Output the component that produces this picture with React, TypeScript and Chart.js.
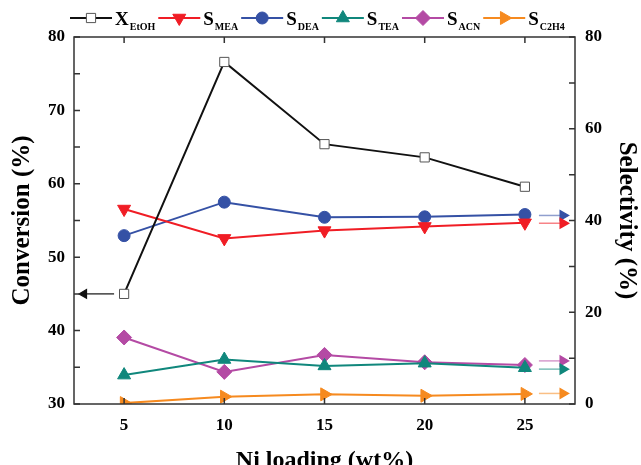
import React, { useEffect, useRef } from 'react';
import { Chart, registerables } from 'chart.js';

Chart.register(...registerables);

// ---------- data ----------
const nickelLoading = [5, 10, 15, 20, 25];
const conversionEtOH = [45.0, 76.6, 65.4, 63.6, 59.6];
const selectivityMEA = [42.5, 36.1, 37.8, 38.7, 39.5];
const selectivityDEA = [36.7, 44.0, 40.7, 40.8, 41.3];
const selectivityTEA = [6.3, 9.7, 8.3, 8.9, 7.9];
const selectivityACN = [14.5, 7.0, 10.7, 9.1, 8.5];
const selectivityC2H4 = [0.2, 1.6, 2.1, 1.8, 2.2];

const xTickValues = [5, 10, 15, 20, 25];
const legendMain = ['X', 'S', 'S', 'S', 'S', 'S'];
const legendSub = ['EtOH', 'MEA', 'DEA', 'TEA', 'ACN', 'C2H4'];

// axis indicator arrows (x from -> to, level)
const conversionArrowX = [4.5, 3.0];
const conversionArrowLevel = 45;
const selectivityArrowX = [25.7, 26.9];
const selectivityArrowLevels = [39.4, 41.1, 7.6, 9.4, 2.3]; // MEA, DEA, TEA, ACN, C2H4

// ---------- styles ----------
const FONT = "'Liberation Serif', 'Times New Roman', serif";
const seriesStyles = [
  { color: '#111111', pointStyle: 'rect', rotation: 0, radius: 6.5, fill: '#ffffff', border: '#555555', bw: 1 },
  { color: '#f01d25', pointStyle: 'triangle', rotation: 180, radius: 7.5, fill: '#f01d25', border: '#f01d25', bw: 1 },
  { color: '#3551a5', pointStyle: 'circle', rotation: 0, radius: 6, fill: '#3551a5', border: '#3551a5', bw: 1 },
  { color: '#10877c', pointStyle: 'triangle', rotation: 0, radius: 7.5, fill: '#10877c', border: '#10877c', bw: 1 },
  { color: '#b44aa4', pointStyle: 'rectRot', rotation: 0, radius: 7.5, fill: '#b44aa4', border: '#b44aa4', bw: 1 },
  { color: '#f68a1f', pointStyle: 'triangle', rotation: 90, radius: 7.5, fill: '#f68a1f', border: '#f68a1f', bw: 1 },
];

function alpha(hex: string, a: number) {
  const r = parseInt(hex.slice(1, 3), 16);
  const g = parseInt(hex.slice(3, 5), 16);
  const b = parseInt(hex.slice(5, 7), 16);
  return `rgba(${r},${g},${b},${a})`;
}

function drawMarker(ctx: CanvasRenderingContext2D, st: any, x: number, y: number) {
  const r = st.radius;
  const rad = (st.rotation * Math.PI) / 180;
  ctx.save();
  ctx.fillStyle = st.fill;
  ctx.strokeStyle = st.border;
  ctx.lineWidth = st.bw;
  ctx.beginPath();
  if (st.pointStyle === 'circle') {
    ctx.arc(x, y, r, 0, Math.PI * 2);
  } else if (st.pointStyle === 'rect') {
    const s = Math.SQRT1_2 * r;
    ctx.rect(x - s, y - s, 2 * s, 2 * s);
  } else if (st.pointStyle === 'rectRot') {
    ctx.moveTo(x, y - r);
    ctx.lineTo(x + r, y);
    ctx.lineTo(x, y + r);
    ctx.lineTo(x - r, y);
    ctx.closePath();
  } else {
    for (let k = 0; k < 3; k++) {
      const a = rad - Math.PI / 2 + (k * 2 * Math.PI) / 3;
      const px = x + Math.cos(a) * r;
      const py = y + Math.sin(a) * r;
      if (k === 0) ctx.moveTo(px, py);
      else ctx.lineTo(px, py);
    }
    ctx.closePath();
  }
  ctx.fill();
  ctx.stroke();
  ctx.restore();
}

const legendPlugin = {
  id: 'subscriptLegend',
  afterDraw(chart: any) {
    const ctx: CanvasRenderingContext2D = chart.ctx;
    let x = 70;
    const y = 18;
    const lineLen = 42;
    for (let i = 0; i < legendMain.length; i++) {
      const st = seriesStyles[i];
      ctx.save();
      ctx.strokeStyle = st.color;
      ctx.lineWidth = 2;
      ctx.beginPath();
      ctx.moveTo(x, y);
      ctx.lineTo(x + lineLen, y);
      ctx.stroke();
      ctx.restore();
      drawMarker(ctx, st, x + lineLen / 2, y);
      ctx.save();
      ctx.fillStyle = '#000';
      ctx.textBaseline = 'alphabetic';
      ctx.font = `bold 19px ${FONT}`;
      const tx = x + lineLen + 3;
      ctx.fillText(legendMain[i], tx, y + 7);
      const w1 = ctx.measureText(legendMain[i]).width;
      ctx.font = `bold 10px ${FONT}`;
      ctx.fillText(legendSub[i], tx + w1 + 1, y + 12);
      const w2 = ctx.measureText(legendSub[i]).width;
      ctx.restore();
      x = tx + w1 + 1 + w2 + 3;
    }
  },
};

const framePlugin = {
  id: 'frameTicks',
  afterDatasetsDraw(chart: any) {
    const ctx: CanvasRenderingContext2D = chart.ctx;
    const { left, right, top, bottom } = chart.chartArea;
    const tl = 6;
    ctx.save();
    ctx.strokeStyle = '#333';
    ctx.lineWidth = 1.5;
    ctx.strokeRect(left, top, right - left, bottom - top);
    ctx.beginPath();
    const xs = chart.scales.x;
    xTickValues.forEach((v) => {
      const px = xs.getPixelForValue(v);
      ctx.moveTo(px, bottom);
      ctx.lineTo(px, bottom - tl);
      ctx.moveTo(px, top);
      ctx.lineTo(px, top + tl);
    });
    const yl = chart.scales.y;
    yl.ticks.forEach((t: any) => {
      const py = yl.getPixelForValue(t.value);
      ctx.moveTo(left, py);
      ctx.lineTo(left + tl, py);
    });
    const yr = chart.scales.y1;
    yr.ticks.forEach((t: any) => {
      const py = yr.getPixelForValue(t.value);
      ctx.moveTo(right, py);
      ctx.lineTo(right - tl, py);
    });
    ctx.stroke();
    ctx.restore();
  },
};

export default function App() {
  const canvasRef = useRef<HTMLCanvasElement | null>(null);

  useEffect(() => {
    if (!canvasRef.current) return;
    const seriesValues = [
      conversionEtOH,
      selectivityMEA,
      selectivityDEA,
      selectivityTEA,
      selectivityACN,
      selectivityC2H4,
    ];
    const mainSets: any[] = seriesValues.map((vals, i) => {
      const st = seriesStyles[i];
      const ds: any = {
        label: legendMain[i] + legendSub[i],
        data: nickelLoading.map((x, j) => ({ x, y: vals[j] })),
        yAxisID: i === 0 ? 'y' : 'y1',
        borderColor: st.color,
        borderWidth: 2,
        pointStyle: st.pointStyle,
        rotation: st.rotation,
        pointRadius: st.radius,
        pointBackgroundColor: st.fill,
        pointBorderColor: st.border,
        pointBorderWidth: st.bw,
        fill: false,
        tension: 0,
      };
      if (i !== seriesValues.length - 1) ds.clip = false;
      else ds.clip = { left: false, right: false, top: false, bottom: 0 };
      return ds;
    });
    const arrowSets: any[] = [
      {
        label: 'arrowX',
        data: conversionArrowX.map((x) => ({ x, y: conversionArrowLevel })),
        yAxisID: 'y',
        borderColor: '#111',
        borderWidth: 1.2,
        pointStyle: 'triangle',
        rotation: 270,
        pointRadius: [0, 5],
        pointBackgroundColor: '#111',
        pointBorderColor: '#111',
        clip: false,
      },
      ...selectivityArrowLevels.map((lvl, k) => {
        const st = seriesStyles[k + 1];
        return {
          label: 'arrow' + legendSub[k + 1],
          data: selectivityArrowX.map((x) => ({ x, y: lvl })),
          yAxisID: 'y1',
          borderColor: alpha(st.color, 0.55),
          borderWidth: 1.5,
          pointStyle: 'triangle',
          rotation: 90,
          pointRadius: [0, 5.5],
          pointBackgroundColor: st.color,
          pointBorderColor: st.color,
          clip: false,
        };
      }),
    ];

    const tickFont = { family: FONT, size: 17, weight: 'bold' as const };
    const titleFont = { family: FONT, size: 24, weight: 'bold' as const };
    const yTitleFont = { family: FONT, size: 25, weight: 'bold' as const };

    const chart = new Chart(canvasRef.current, {
      type: 'line',
      data: { datasets: [...mainSets, ...arrowSets] },
      plugins: [legendPlugin, framePlugin],
      options: {
        responsive: false,
        animation: false,
        events: [],
        layout: { padding: { top: 37, left: 0, right: 0, bottom: -10 } },
        plugins: { legend: { display: false }, tooltip: { enabled: false } },
        scales: {
          x: {
            type: 'linear',
            min: 2.5,
            max: 27.5,
            afterBuildTicks: (s: any) => {
              s.ticks = xTickValues.map((v) => ({ value: v }));
            },
            afterFit: (s: any) => {
              s.height = 71;
            },
            grid: { display: false, drawTicks: false },
            border: { display: false },
            ticks: { font: tickFont, color: '#000', padding: 11, autoSkip: false, maxRotation: 0 },
            title: { display: true, text: 'Ni loading (wt%)', font: titleFont, color: '#000', padding: { top: 0, bottom: 0 } },
          },
          y: {
            type: 'linear',
            position: 'left',
            min: 30,
            max: 80,
            afterFit: (s: any) => {
              s.width = 74;
            },
            grid: { display: false, drawTicks: false },
            border: { display: false },
            ticks: {
              stepSize: 5,
              font: tickFont,
              color: '#000',
              padding: 9,
              callback: (v: any) => (Number(v) % 10 === 0 ? String(v) : ''),
            },
            title: { display: true, text: 'Conversion (%)', font: yTitleFont, color: '#000', padding: { top: 8, bottom: 8 } },
          },
          y1: {
            type: 'linear',
            position: 'right',
            min: 0,
            max: 80,
            afterFit: (s: any) => {
              s.width = 66;
            },
            grid: { display: false, drawTicks: false },
            border: { display: false },
            ticks: {
              stepSize: 10,
              font: tickFont,
              color: '#000',
              padding: 10,
              callback: (v: any) => (Number(v) % 20 === 0 ? String(v) : ''),
            },
            title: { display: true, text: 'Selectivity (%)', font: yTitleFont, color: '#000', padding: { top: 0, bottom: 0 } },
          },
        },
      } as any,
    });
    return () => chart.destroy();
  }, []);

  return (
    <div style={{ position: 'absolute', left: 0, top: 0, width: 641, height: 465, background: '#fff' }}>
      <canvas ref={canvasRef} width={641} height={465} style={{ display: 'block' }} />
    </div>
  );
}
